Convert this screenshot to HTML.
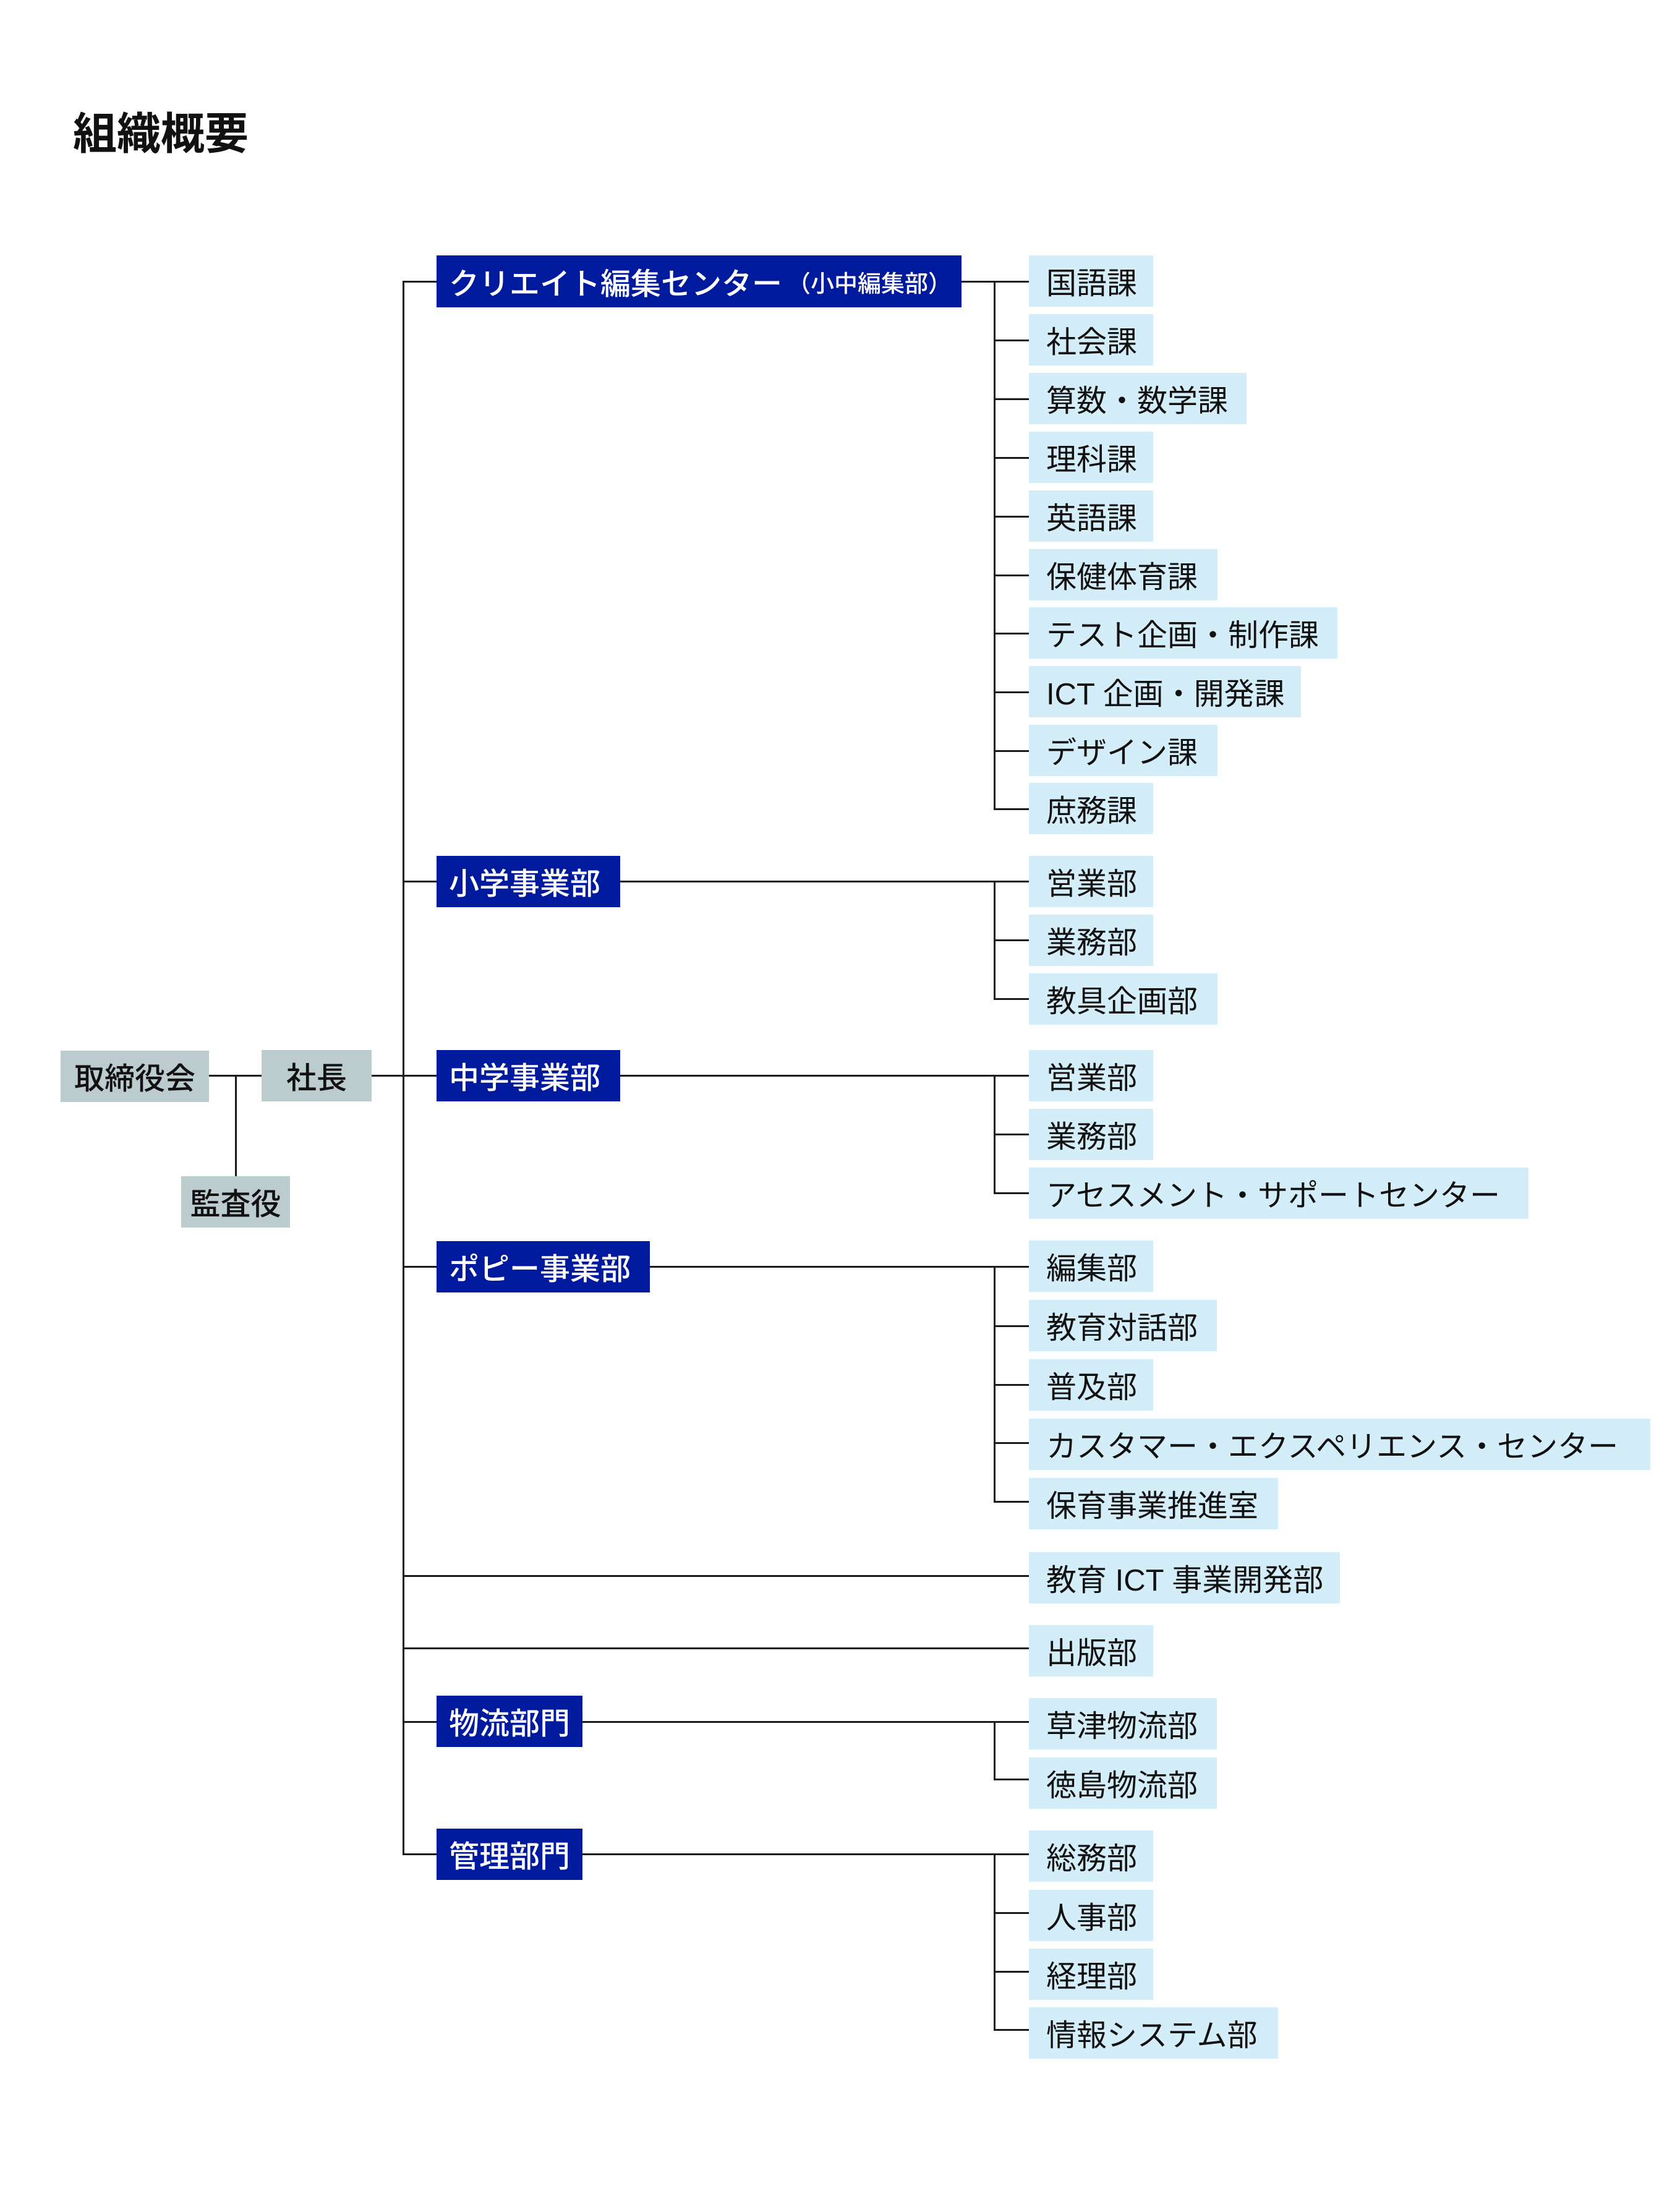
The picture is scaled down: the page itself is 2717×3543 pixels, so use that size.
<!DOCTYPE html>
<html><head><meta charset="utf-8"><style>
html,body{margin:0;padding:0;background:#fff;}
body{width:2717px;height:3543px;position:relative;overflow:hidden;font-family:"Liberation Sans","Noto Sans CJK JP",sans-serif;}
.b{position:absolute;box-sizing:border-box;display:flex;align-items:center;font-size:49px;white-space:nowrap;height:83px;}
.n{background:#001a9e;color:#fff;padding-left:20px;font-weight:500;}
.l{background:#d4eef9;color:#111;padding-left:28px;}
.g{background:#bccbce;color:#111;justify-content:center;font-weight:500;}
.h{position:absolute;height:3px;background:#1a1a1a;}
.v{position:absolute;width:3px;background:#1a1a1a;}
.t{position:absolute;left:118px;top:160px;font-size:71px;color:#111;font-weight:bold;}
</style></head><body>
<div class="t">組織概要</div>

<div class="b g" style="left:98px;top:1699px;width:240px;">取締役会</div>
<div class="b g" style="left:423px;top:1698px;width:178px;">社長</div>
<div class="b g" style="left:293px;top:1902px;width:176px;">監査役</div>
<div class="h" style="left:338px;top:1738px;width:85px;"></div>
<div class="v" style="left:380px;top:1738px;height:164px;"></div>
<div class="h" style="left:601px;top:1738px;width:105px;"></div>

<div class="v" style="left:651px;top:454px;height:2546px;"></div>

<div class="h" style="left:651px;top:454px;width:55px;"></div>
<div class="b n" style="left:706px;top:413px;width:849px;height:84px;">クリエイト編集センター<span style="font-size:38px;margin-left:8px;">（小中編集部）</span></div>
<div class="h" style="left:1555px;top:454px;width:109px;"></div>
<div class="v" style="left:1607px;top:454px;height:855px;"></div>
<div class="b l" style="left:1664px;top:413px;width:201px;">国語課</div>
<div class="b l" style="left:1664px;top:508px;width:201px;">社会課</div>
<div class="b l" style="left:1664px;top:603px;width:352px;">算数・数学課</div>
<div class="b l" style="left:1664px;top:698px;width:201px;">理科課</div>
<div class="b l" style="left:1664px;top:793px;width:201px;">英語課</div>
<div class="b l" style="left:1664px;top:888px;width:305px;">保健体育課</div>
<div class="b l" style="left:1664px;top:982px;width:499px;">テスト企画・制作課</div>
<div class="b l" style="left:1664px;top:1077px;width:440px;">ICT 企画・開発課</div>
<div class="b l" style="left:1664px;top:1172px;width:305px;">デザイン課</div>
<div class="b l" style="left:1664px;top:1266px;width:201px;">庶務課</div>
<div class="h" style="left:1607px;top:549px;width:57px;"></div>
<div class="h" style="left:1607px;top:644px;width:57px;"></div>
<div class="h" style="left:1607px;top:739px;width:57px;"></div>
<div class="h" style="left:1607px;top:834px;width:57px;"></div>
<div class="h" style="left:1607px;top:929px;width:57px;"></div>
<div class="h" style="left:1607px;top:1023px;width:57px;"></div>
<div class="h" style="left:1607px;top:1118px;width:57px;"></div>
<div class="h" style="left:1607px;top:1213px;width:57px;"></div>
<div class="h" style="left:1607px;top:1307px;width:57px;"></div>

<div class="h" style="left:651px;top:1424px;width:55px;"></div>
<div class="b n" style="left:706px;top:1384px;width:297px;">小学事業部</div>
<div class="h" style="left:1003px;top:1424px;width:661px;"></div>
<div class="v" style="left:1607px;top:1424px;height:193px;"></div>
<div class="b l" style="left:1664px;top:1384px;width:201px;">営業部</div>
<div class="b l" style="left:1664px;top:1479px;width:201px;">業務部</div>
<div class="b l" style="left:1664px;top:1574px;width:305px;">教具企画部</div>
<div class="h" style="left:1607px;top:1519px;width:57px;"></div>
<div class="h" style="left:1607px;top:1614px;width:57px;"></div>

<div class="b n" style="left:706px;top:1698px;width:297px;">中学事業部</div>
<div class="h" style="left:1003px;top:1738px;width:661px;"></div>
<div class="v" style="left:1607px;top:1738px;height:193px;"></div>
<div class="b l" style="left:1664px;top:1698px;width:201px;">営業部</div>
<div class="b l" style="left:1664px;top:1793px;width:201px;">業務部</div>
<div class="b l" style="left:1664px;top:1888px;width:808px;">アセスメント・サポートセンター</div>
<div class="h" style="left:1607px;top:1833px;width:57px;"></div>
<div class="h" style="left:1607px;top:1928px;width:57px;"></div>

<div class="h" style="left:651px;top:2047px;width:55px;"></div>
<div class="b n" style="left:706px;top:2007px;width:345px;">ポピー事業部</div>
<div class="h" style="left:1051px;top:2047px;width:613px;"></div>
<div class="v" style="left:1607px;top:2047px;height:383px;"></div>
<div class="b l" style="left:1664px;top:2006px;width:201px;">編集部</div>
<div class="b l" style="left:1664px;top:2102px;width:304px;">教育対話部</div>
<div class="b l" style="left:1664px;top:2198px;width:201px;">普及部</div>
<div class="b l" style="left:1664px;top:2294px;width:1005px;">カスタマー・エクスペリエンス・センター</div>
<div class="b l" style="left:1664px;top:2390px;width:403px;">保育事業推進室</div>
<div class="h" style="left:1607px;top:2143px;width:57px;"></div>
<div class="h" style="left:1607px;top:2238px;width:57px;"></div>
<div class="h" style="left:1607px;top:2332px;width:57px;"></div>
<div class="h" style="left:1607px;top:2427px;width:57px;"></div>

<div class="h" style="left:651px;top:2547px;width:1013px;"></div>
<div class="b l" style="left:1664px;top:2510px;width:503px;">教育 ICT 事業開発部</div>
<div class="h" style="left:651px;top:2664px;width:1013px;"></div>
<div class="b l" style="left:1664px;top:2628px;width:201px;">出版部</div>

<div class="h" style="left:651px;top:2783px;width:55px;"></div>
<div class="b n" style="left:706px;top:2742px;width:236px;">物流部門</div>
<div class="h" style="left:942px;top:2783px;width:722px;"></div>
<div class="v" style="left:1607px;top:2783px;height:96px;"></div>
<div class="b l" style="left:1664px;top:2746px;width:304px;">草津物流部</div>
<div class="b l" style="left:1664px;top:2842px;width:304px;">徳島物流部</div>
<div class="h" style="left:1607px;top:2876px;width:57px;"></div>

<div class="h" style="left:651px;top:2997px;width:55px;"></div>
<div class="b n" style="left:706px;top:2957px;width:236px;">管理部門</div>
<div class="h" style="left:942px;top:2997px;width:722px;"></div>
<div class="v" style="left:1607px;top:2997px;height:287px;"></div>
<div class="b l" style="left:1664px;top:2960px;width:201px;">総務部</div>
<div class="b l" style="left:1664px;top:3056px;width:201px;">人事部</div>
<div class="b l" style="left:1664px;top:3151px;width:201px;">経理部</div>
<div class="b l" style="left:1664px;top:3246px;width:403px;">情報システム部</div>
<div class="h" style="left:1607px;top:3092px;width:57px;"></div>
<div class="h" style="left:1607px;top:3187px;width:57px;"></div>
<div class="h" style="left:1607px;top:3281px;width:57px;"></div>
</body></html>
